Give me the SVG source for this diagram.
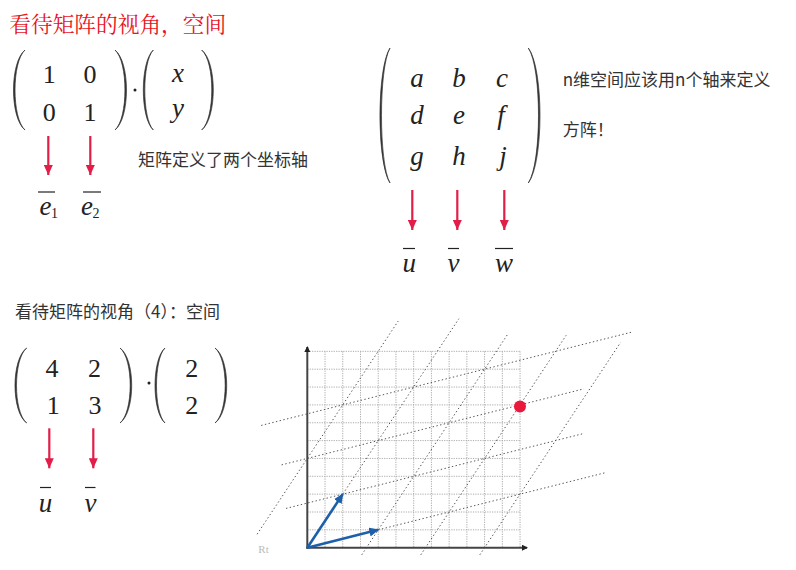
<svg xmlns="http://www.w3.org/2000/svg" width="796" height="570" viewBox="0 0 796 570">
<style>
.title{font-family:"Noto Serif CJK SC","Noto Sans CJK SC",serif;font-size:21.7px;fill:#e8141e}
.cjk{font-family:"Noto Sans CJK SC",sans-serif;font-size:17px;fill:#333}
.num{font-family:"Liberation Serif",serif;font-size:26px;fill:#222;text-anchor:middle}
.var{font-family:"Liberation Serif",serif;font-style:italic;font-size:27px;fill:#222;text-anchor:middle}
.sub{font-family:"Liberation Serif",serif;font-size:14px;fill:#222}
.paren{fill:#333;stroke:#333;stroke-width:0.7}
.bar{stroke:#222;stroke-width:1.2;fill:none}
.red{stroke:#e11d48;stroke-width:2.2;fill:none}
.blue{stroke:#1d5fa8;stroke-width:2.6;fill:none}
.grid{stroke:#aaa;stroke-width:1;stroke-dasharray:1.2 1.2;fill:none}
.tline{stroke:#555;stroke-width:1;stroke-dasharray:1.4 2.4;fill:none}
.axis{stroke:#444;stroke-width:2;fill:none}
</style>
<defs>
<marker id="ra" markerUnits="userSpaceOnUse" markerWidth="10" markerHeight="9" refX="10" refY="4.5" orient="auto"><path d="M0,0 L10,4.5 L0,9 Z" fill="#e11d48"/></marker>
<marker id="ba" markerUnits="userSpaceOnUse" markerWidth="10" markerHeight="9" refX="9" refY="4.5" orient="auto"><path d="M0,0 L10,4.5 L0,9 Z" fill="#1d5fa8"/></marker>
<marker id="ka" markerUnits="userSpaceOnUse" markerWidth="6" markerHeight="6" refX="5" refY="3" orient="auto"><path d="M0,0 L6,3 L0,6 Z" fill="#222"/></marker>
</defs>

<text class="title" x="9.3" y="32">看待矩阵的视角，空间</text>

<g id="matrix1">
<path class="paren" d="M25,50 C9.67,62 9.67,118 25,130 C11.67,118 11.67,62 25,50Z"/>
<path class="paren" d="M115,50 C130.33,62 130.33,118 115,130 C128.33,118 128.33,62 115,50Z"/>
<text class="num" x="49.3" y="83.3">1</text>
<text class="num" x="90" y="83.3">0</text>
<text class="num" x="49.3" y="120.7">0</text>
<text class="num" x="90" y="120.7">1</text>
<circle cx="135" cy="90" r="1.5" fill="#222"/>
<path class="paren" d="M153.3,50 C139.97,62 139.97,118 153.3,130 C141.97,118 141.97,62 153.3,50Z"/>
<path class="paren" d="M201.7,50 C217.17,62 217.17,118 201.7,130 C215.17,118 215.17,62 201.7,50Z"/>
<text class="var" x="178" y="82">x</text>
<text class="var" x="178" y="117">y</text>
</g>

<g id="label-e1">
<line class="bar" x1="38" y1="192" x2="55" y2="192"/>
<text class="var" x="45.5" y="215">e</text>
<text class="sub" x="51" y="218">1</text>
</g>
<g id="label-e2">
<line class="bar" x1="83" y1="192" x2="101" y2="192"/>
<text class="var" x="87" y="215">e</text>
<text class="sub" x="92.5" y="218">2</text>
</g>
<g id="note1"><text class="cjk" x="138" y="166" font-size="17.5">矩阵定义了两个坐标轴</text></g>

<g id="matrix2">
<path class="paren" d="M390,48 C376.67,68 376.67,163 390,183 C378.67,163 378.67,68 390,48Z"/>
<path class="paren" d="M528.3,48 C543.9,68 543.9,163 528.3,183 C541.9,163 541.9,68 528.3,48Z"/>
<text class="var" x="417" y="87">a</text>
<text class="var" x="459" y="87">b</text>
<text class="var" x="502" y="87">c</text>
<text class="var" x="417" y="123.5">d</text>
<text class="var" x="459" y="123.5">e</text>
<text class="var" x="501" y="123.5">f</text>
<text class="var" x="417" y="165">g</text>
<text class="var" x="459" y="165">h</text>
<text class="var" x="503" y="165">j</text>
</g>
<g id="label-u1"><line class="bar" x1="403" y1="248.5" x2="415" y2="248.5"/><text class="var" x="409.3" y="272">u</text></g>
<g id="label-v1"><line class="bar" x1="448" y1="248.5" x2="459" y2="248.5"/><text class="var" x="453.5" y="272">v</text></g>
<g id="label-w1"><line class="bar" x1="495" y1="248.5" x2="513" y2="248.5"/><text class="var" x="504" y="272">w</text></g>
<g id="note2">
<text class="cjk" x="562.7" y="86" font-size="16.5">n维空间应该用n个轴来定义</text>
<text class="cjk" x="562.7" y="136" font-size="16.5">方阵！</text>
</g>

<g id="heading2"><text class="cjk" x="15" y="318" font-size="17">看待矩阵的视角（4）：空间</text></g>

<g id="matrix3">
<path class="paren" d="M26.7,348 C11.1,359 11.1,412 26.7,423 C13.1,412 13.1,359 26.7,348Z"/>
<path class="paren" d="M120,348 C135.6,359 135.6,412 120,423 C133.6,412 133.6,359 120,348Z"/>
<text class="num" x="52" y="377.3">4</text>
<text class="num" x="94.5" y="377.3">2</text>
<text class="num" x="53.3" y="414">1</text>
<text class="num" x="95" y="414">3</text>
<circle cx="149" cy="383" r="1.5" fill="#222"/>
<path class="paren" d="M165,348 C151.67,359 151.67,412 165,423 C153.67,412 153.67,359 165,348Z"/>
<path class="paren" d="M215,348 C230.6,359 230.6,412 215,423 C228.6,412 228.6,359 215,348Z"/>
<text class="num" x="191.7" y="377.3">2</text>
<text class="num" x="191.7" y="414">2</text>
</g>
<g id="label-u2"><line class="bar" x1="40" y1="487.5" x2="51" y2="487.5"/><text class="var" x="45.5" y="511.5">u</text></g>
<g id="label-v2"><line class="bar" x1="85" y1="487.5" x2="95.5" y2="487.5"/><text class="var" x="90.5" y="511.5">v</text></g>

<g id="plane">
<path class="grid" d="M325.03,351.35V547.7M342.76,351.35V547.7M360.49,351.35V547.7M378.22,351.35V547.7M395.95,351.35V547.7M413.68,351.35V547.7M431.41,351.35V547.7M449.14,351.35V547.7M466.87,351.35V547.7M484.6,351.35V547.7M502.33,351.35V547.7M520.06,351.35V547.7"/>
<path class="grid" d="M307.3,529.85H520.06M307.3,512H520.06M307.3,494.15H520.06M307.3,476.3H520.06M307.3,458.45H520.06M307.3,440.6H520.06M307.3,422.75H520.06M307.3,404.9H520.06M307.3,387.05H520.06M307.3,369.2H520.06M307.3,351.35H520.06"/>
<path class="tline" d="M378.22,529.85L605.16,472.73M286.02,508.43L583.89,433.46M281.59,464.88L583.89,388.84M261.2,425.43L632.65,331.89"/>
<path class="tline" d="M257.12,534.22L398.25,321M307.3,547.7L458.89,318.68M361.73,554.84L508.18,333.5M420.77,554.84L566.16,335.29M479.81,554.84L620.59,342.43"/>
<line class="axis" x1="307.3" y1="548.7" x2="307.3" y2="347" marker-end="url(#ka)"/>
<line class="axis" x1="306.3" y1="547.7" x2="527" y2="547.7" marker-end="url(#ka)"/>
<text x="258.3" y="553" font-family="Liberation Serif,serif" font-size="11" fill="#bbb">Rt</text>
<circle id="point" cx="520" cy="406.5" r="6" fill="#e8193c"/>
</g>

<g id="connectors">
<line class="red" x1="48.3" y1="136" x2="48.3" y2="175" marker-end="url(#ra)"/>
<line class="red" x1="90.3" y1="136" x2="90.3" y2="175" marker-end="url(#ra)"/>
<line class="red" x1="412.3" y1="190" x2="412.3" y2="230" marker-end="url(#ra)"/>
<line class="red" x1="457.3" y1="190" x2="457.3" y2="230" marker-end="url(#ra)"/>
<line class="red" x1="504.3" y1="190" x2="504.3" y2="230" marker-end="url(#ra)"/>
<line class="red" x1="49.3" y1="428.3" x2="49.3" y2="468.3" marker-end="url(#ra)"/>
<line class="red" x1="93.3" y1="428.3" x2="93.3" y2="468.3" marker-end="url(#ra)"/>
<line class="blue" x1="307.3" y1="547.7" x2="378.22" y2="529.85" marker-end="url(#ba)"/>
<line class="blue" x1="307.3" y1="547.7" x2="342.76" y2="494.15" marker-end="url(#ba)"/>
</g>
</svg>
